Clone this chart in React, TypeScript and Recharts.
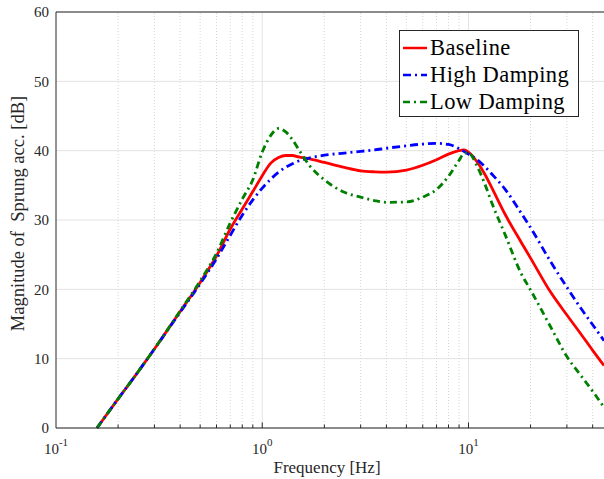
import React from "react";
import {
  LineChart,
  Line,
  XAxis,
  YAxis,
  CartesianGrid,
  ReferenceLine,
  Legend,
} from "recharts";

const FONT = '"Liberation Serif", "Times New Roman", Times, serif';
const AXIS_COLOR = "#262626";

// frequency points [Hz]
const freqs = [
  0.158, 0.2, 0.25, 0.3, 0.4, 0.5, 0.6, 0.7, 0.8, 0.9, 1.0, 1.1, 1.2, 1.3,
  1.4, 1.5, 1.7, 2.0, 2.5, 3.0, 3.5, 4.0, 5.0, 6.0, 7.0, 8.0, 9.0, 9.5, 10,
  11, 12, 13, 15, 18, 20, 25, 30, 35, 40, 45.4,
];

// magnitudes [dB]
const baseline = [
  0, 4.2, 8.1, 11.4, 16.8, 21.0, 24.8, 28.7, 31.6, 34.1, 36.4, 38.2, 39.0,
  39.3, 39.3, 39.1, 38.8, 38.3, 37.6, 37.1, 36.95, 36.9, 37.2, 37.9, 38.7,
  39.5, 40.0, 40.1, 39.8, 38.4, 36.6, 34.6, 30.9, 26.8, 24.5, 19.6, 16.3,
  13.6, 11.2, 9.0,
];
const highDamping = [
  0, 4.2, 8.1, 11.4, 16.7, 20.8, 24.4, 27.8, 30.7, 32.9, 34.6, 35.9, 36.9,
  37.6, 38.1, 38.5, 38.95, 39.35, 39.65, 39.9, 40.1, 40.35, 40.7, 40.95,
  41.05, 40.9, 40.3, 39.9, 39.5, 38.7, 37.7, 36.6, 34.5, 31.0, 28.9, 24.0,
  20.3, 17.3, 14.9, 12.6,
];
const lowDamping = [
  0, 4.2, 8.1, 11.4, 16.9, 21.2, 25.2, 29.6, 33.0, 35.8, 39.8, 42.2, 43.2,
  42.7, 41.6, 40.2, 37.8, 35.8, 34.0, 33.3, 32.8, 32.55, 32.6, 33.3, 34.4,
  36.3, 38.6, 39.6, 39.7, 37.8, 35.2, 32.4, 28.0, 22.3, 19.9, 14.6, 10.3,
  7.6, 5.3, 3.0,
];

const xMajor = [0.1, 1, 10];
const xMinor = [
  0.2, 0.3, 0.4, 0.5, 0.6, 0.7, 0.8, 0.9, 2, 3, 4, 5, 6, 7, 8, 9, 20, 30, 40,
];
const yTicks = [0, 10, 20, 30, 40, 50, 60];

const series = [
  { key: "baseline", name: "Baseline", color: "#ff0000", dash: undefined },
  { key: "high", name: "High Damping", color: "#0000ff", dash: "8 4 2 4" },
  { key: "low", name: "Low Damping", color: "#008000", dash: "7 4 2 4" },
];

const data = freqs.map((f, i) => ({
  f,
  baseline: baseline[i],
  high: highDamping[i],
  low: lowDamping[i],
}));

const XTick = (props: any) => {
  const { x, y, payload } = props;
  const exp = Math.round(Math.log10(payload.value));
  return (
    <text
      x={x}
      y={y + 18}
      textAnchor="middle"
      fill={AXIS_COLOR}
      fontFamily={FONT}
      fontSize={15}
    >
      <tspan>10</tspan>
      <tspan dy={-8} fontSize={11}>
        {exp}
      </tspan>
    </text>
  );
};

const LegendBox = () => (
  <div
    style={{
      width: 180,
      height: 87,
      boxSizing: "border-box",
      border: `1px solid ${AXIS_COLOR}`,
      background: "#fff",
      fontFamily: FONT,
      fontSize: 22.5,
      letterSpacing: 0.4,
      color: "#000",
      paddingTop: 3,
      whiteSpace: "nowrap",
    }}
  >
    {series.map((s) => (
      <div
        key={s.key}
        style={{ display: "flex", alignItems: "center", height: 27 }}
      >
        <svg width={30} height={10} style={{ flex: "none" }}>
          <line
            x1={3}
            x2={27}
            y1={5}
            y2={5}
            stroke={s.color}
            strokeWidth={2.5}
            strokeDasharray={s.dash}
          />
        </svg>
        <span style={{ lineHeight: "27px" }}>{s.name}</span>
      </div>
    ))}
  </div>
);

export default function App() {
  return (
    <div style={{ position: "absolute", left: 0, top: 0 }}>
      <LineChart
        width={604}
        height={479}
        data={data}
        margin={{ top: 12, right: 0, bottom: 0, left: 0 }}
      >
        <CartesianGrid
          vertical={false}
          stroke="#e3e3e3"
          horizontalValues={yTicks}
        />
        {xMinor.map((v) => (
          <ReferenceLine
            key={`g${v}`}
            x={v}
            stroke="#d6d6d6"
            strokeDasharray="1 2"
          />
        ))}
        {xMajor.slice(1).map((v) => (
          <ReferenceLine key={`G${v}`} x={v} stroke="#e3e3e3" />
        ))}
        <XAxis
          dataKey="f"
          type="number"
          scale="log"
          domain={[0.1, 45.4]}
          allowDataOverflow
          ticks={xMajor}
          tick={<XTick />}
          tickLine={false}
          axisLine={{ stroke: AXIS_COLOR }}
          height={51}
          label={{
            value: "Frequency [Hz]",
            position: "insideBottom",
            offset: 6,
            dx: -3,
            style: { fontFamily: FONT, fontSize: 17, fill: AXIS_COLOR },
          }}
        />
        <YAxis
          type="number"
          domain={[0, 60]}
          ticks={yTicks}
          width={56}
          tickLine={false}
          tickSize={5}
          tickMargin={2}
          axisLine={{ stroke: AXIS_COLOR }}
          tick={{ fontSize: 15, fill: AXIS_COLOR, fontFamily: FONT }}
          label={() => (
            <text
              x={24}
              y={213.5}
              transform="rotate(-90 24 213.5)"
              textAnchor="middle"
              fontFamily={FONT}
              fontSize={18.5}
              fill={AXIS_COLOR}
              style={{ whiteSpace: "pre" }}
            >
              Magnitude of  Sprung acc. [dB]
            </text>
          )}
        />
        <ReferenceLine y={60} stroke={AXIS_COLOR} />
        {xMinor.map((v) => (
          <ReferenceLine
            key={`t${v}`}
            segment={[
              { x: v, y: 0 },
              { x: v, y: 0.5 },
            ]}
            stroke={AXIS_COLOR}
          />
        ))}
        {xMajor.slice(1).map((v) => (
          <ReferenceLine
            key={`T${v}`}
            segment={[
              { x: v, y: 0 },
              { x: v, y: 0.8 },
            ]}
            stroke={AXIS_COLOR}
          />
        ))}
        {series.map((s) => (
          <Line
            key={s.key}
            dataKey={s.key}
            name={s.name}
            type="monotone"
            stroke={s.color}
            strokeWidth={2.8}
            strokeDasharray={s.dash}
            dot={false}
            activeDot={false}
            isAnimationActive={false}
          />
        ))}
        <Legend
          layout="horizontal"
          verticalAlign="middle"
          align="center"
          content={<LegendBox />}
          wrapperStyle={{ left: 399, top: 30, width: 180, height: 87 }}
        />
      </LineChart>
    </div>
  );
}
